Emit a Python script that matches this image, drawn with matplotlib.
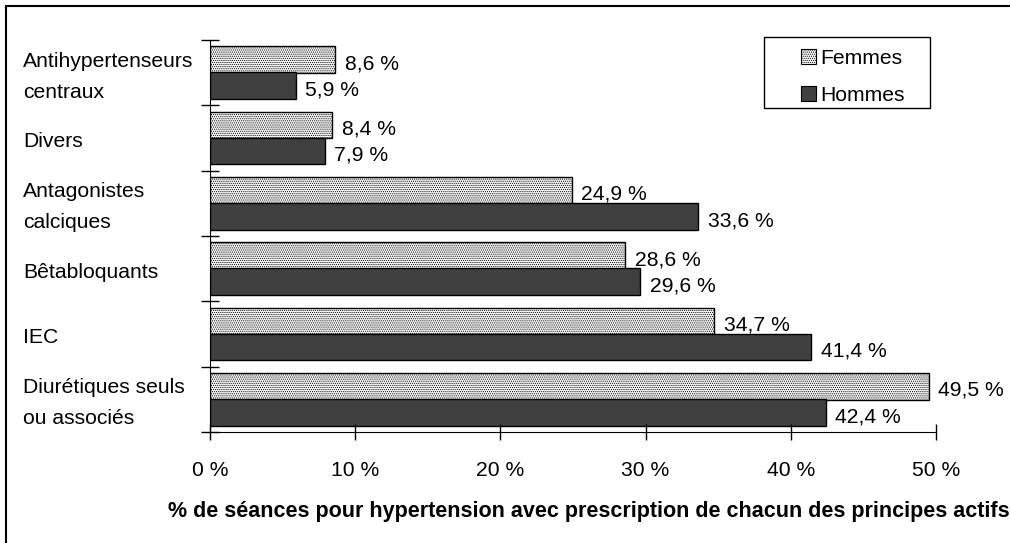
import matplotlib.pyplot as plt
from matplotlib.patches import Patch, Rectangle
from matplotlib.transforms import blended_transform_factory

plt.rcParams["font.family"] = ["Liberation Sans", "DejaVu Sans"]
plt.rcParams["font.size"] = 15.2
plt.rcParams["hatch.color"] = "#8a8a8a"
plt.rcParams["hatch.linewidth"] = 0.5

# données (de haut en bas)
categories = ["Antihypertenseurs\ncentraux", "Divers", "Antagonistes\ncalciques",
              "Bêtabloquants", "IEC", "Diurétiques seuls\nou associés"]
femmes = [8.6, 8.4, 24.9, 28.6, 34.7, 49.5]
hommes = [5.9, 7.9, 33.6, 29.6, 41.4, 42.4]
xticks = [0, 10, 20, 30, 40, 50]
xlabel = "% de séances pour hypertension avec prescription de chacun des principes actifs"

W, H = 1010, 543
fig = plt.figure(figsize=(W / 100, H / 100), dpi=100)
ax = fig.add_axes([210 / W, 1 - 432 / H, (936 - 210) / W, (432 - 40) / H])

pos = range(len(categories))
fem_pos = [p - 0.2 for p in pos]
hom_pos = [p + 0.2 for p in pos]
ax.barh(fem_pos, femmes, height=0.41, color="#f4f4f4", edgecolor="black",
        linewidth=1, hatch="........")
ax.barh(hom_pos, hommes, height=0.41, color="#404040", edgecolor="black",
        linewidth=1)

# étiquettes de valeurs
for y, v in zip(fem_pos, femmes):
    ax.annotate(f"{v:.1f}".replace(".", ",") + " %", (v, y), xytext=(7, -3),
                textcoords="offset points", va="center", ha="left")
for y, v in zip(hom_pos, hommes):
    ax.annotate(f"{v:.1f}".replace(".", ",") + " %", (v, y), xytext=(7, -3),
                textcoords="offset points", va="center", ha="left")

ax.set_xlim(0, 50)
ax.set_ylim(len(categories) - 0.5, -0.5)
ax.set_xticks(xticks)
ax.set_xticklabels([f"{t} %" for t in xticks])
ax.set_yticks([p - 0.5 for p in range(len(categories) + 1)])
ax.set_yticklabels([])
ax.tick_params(axis="x", direction="inout", length=12, width=1, pad=15)
ax.tick_params(axis="y", direction="inout", length=13, width=1)
ax.spines["top"].set_visible(False)
ax.spines["right"].set_visible(False)

# noms des catégories alignés à gauche
trans = blended_transform_factory(fig.transFigure, ax.transData)
for p, c in zip(pos, categories):
    fig.text(23 / W, p + 0.06, c, transform=trans, ha="left", va="center",
             linespacing=1.8)

fig.text(589 / W, 1 - 511 / H, xlabel, ha="center", va="center",
         fontweight="bold", fontsize=15.5)

# légende
handles = [Patch(facecolor="#f4f4f4", edgecolor="black", hatch="........", linewidth=0.8),
           Patch(facecolor="#404040", edgecolor="black", linewidth=0.8)]
fig.legend(handles, ["Femmes", "Hommes"], loc="center left",
           bbox_to_anchor=(801 / W, 1 - 77 / H), frameon=False,
           handlelength=0.72, handleheight=0.72, handletextpad=0.2,
           labelspacing=0.85, borderpad=0, borderaxespad=0)
fig.patches.append(Rectangle((764 / W, 1 - 108 / H), 166 / W, 71 / H,
                             transform=fig.transFigure, fill=False,
                             edgecolor="black", linewidth=1))

# cadre extérieur
fig.patches.append(Rectangle((6 / W, -0.05), 1.1, 1.05 - 6 / H,
                             transform=fig.transFigure, fill=False,
                             edgecolor="black", linewidth=1.5))

fig.savefig("out.png", dpi=100)
